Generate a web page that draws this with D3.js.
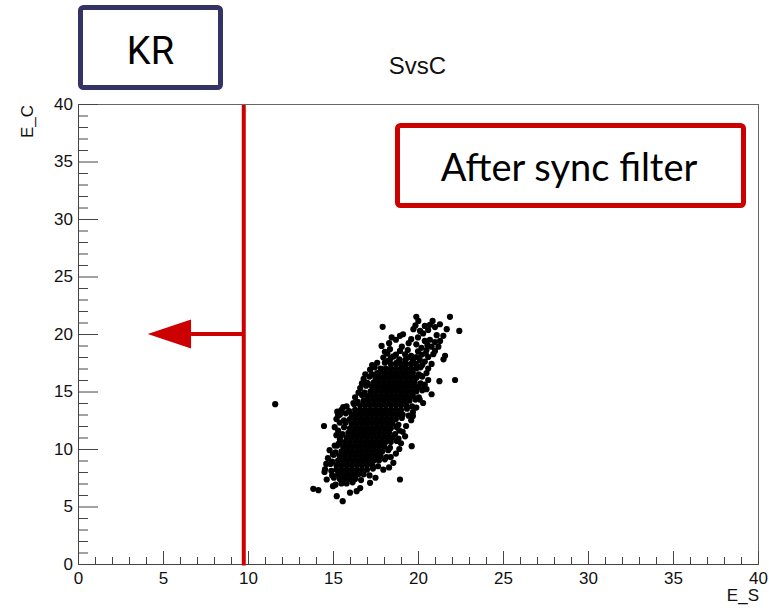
<!DOCTYPE html>
<html>
<head>
<meta charset="utf-8">
<script src="https://cdn.jsdelivr.net/npm/d3@7"></script>
<style>
  html, body { margin: 0; padding: 0; background: #fff; }
  svg { display: block; }
</style>
</head>
<body>
<svg id="chart" width="769" height="608"></svg>
<script>
/* axis ranges and ticks */
const xDomain = [0, 40]
const yDomain = [0, 40]
const majorTicks = [0, 5, 10, 15, 20, 25, 30, 35, 40]
const minorTicks = [1, 2, 3, 4, 6, 7, 8, 9, 11, 12, 13, 14, 16, 17, 18, 19, 21, 22, 23, 24,
  26, 27, 28, 29, 31, 32, 33, 34, 36, 37, 38, 39]

/* labels */
const title = "SvsC"
const xLabel = "E_S"
const yLabel = "E_C"
const tagLabel = "KR"
const noteLabel = "After sync filter"

/* cut line on E_S and the arrow that points to the kept side */
const cutES = 9.75
const arrowY = 20
const arrowBase = 6.65
const arrowTip = 4.1

/* dense core of the cloud: [E_C, [E_S ...]] read row by row */
const coreRows = [
  [17.4, [18.4, 18.7, 19.0, 19.3, 19.6, 19.9]],
  [17.0, [17.8, 18.1, 18.4, 18.7, 19.0, 19.3, 19.6, 19.9]],
  [16.6, [17.6, 17.9, 18.2, 18.5, 18.8, 19.1, 19.4, 19.7]],
  [16.2, [17.5, 17.8, 18.1, 18.4, 18.7, 19.0, 19.3, 19.6, 19.9]],
  [15.8, [17.4, 17.7, 18.0, 18.3, 18.6, 18.9, 19.2, 19.5, 19.8]],
  [15.4, [17.3, 17.6, 17.9, 18.2, 18.5, 18.8, 19.1, 19.4, 19.7, 20.0]],
  [15.0, [17.2, 17.5, 17.8, 18.1, 18.4, 18.7, 19.0, 19.3, 19.6, 19.9]],
  [14.6, [17.0, 17.3, 17.6, 17.9, 18.2, 18.5, 18.8, 19.1, 19.4, 19.7]],
  [14.2, [16.8, 17.1, 17.4, 17.7, 18.0, 18.3, 18.6, 18.9, 19.2, 19.5]],
  [13.8, [16.6, 16.9, 17.2, 17.5, 17.8, 18.1, 18.4, 18.7, 19.0, 19.3]],
  [13.4, [16.3, 16.6, 16.9, 17.2, 17.5, 17.8, 18.1, 18.4, 18.7, 19.0]],
  [13.0, [16.1, 16.4, 16.7, 17.0, 17.3, 17.6, 17.9, 18.2, 18.5, 18.8, 19.1]],
  [12.6, [16.0, 16.3, 16.6, 16.9, 17.2, 17.5, 17.8, 18.1, 18.4, 18.7]],
  [12.2, [16.1, 16.4, 16.7, 17.0, 17.3, 17.6, 17.9, 18.2, 18.5]],
  [11.8, [16.0, 16.3, 16.6, 16.9, 17.2, 17.5, 17.8, 18.1, 18.4]],
  [11.4, [15.9, 16.2, 16.5, 16.8, 17.1, 17.4, 17.7, 18.0, 18.3]],
  [11.0, [15.8, 16.1, 16.4, 16.7, 17.0, 17.3, 17.6, 17.9, 18.2, 18.5]],
  [10.6, [15.7, 16.0, 16.3, 16.6, 16.9, 17.2, 17.5, 17.8, 18.1, 18.4]],
  [10.2, [15.6, 15.9, 16.2, 16.5, 16.8, 17.1, 17.4, 17.7, 18.0]],
  [9.8, [15.5, 15.8, 16.1, 16.4, 16.7, 17.0, 17.3, 17.6, 17.9]],
  [9.4, [15.4, 15.7, 16.0, 16.3, 16.6, 16.9, 17.2, 17.5, 17.8]],
  [9.0, [15.3, 15.6, 15.9, 16.2, 16.5, 16.8, 17.1, 17.4, 17.7]],
  [8.6, [15.2, 15.5, 15.8, 16.1, 16.4, 16.7, 17.0, 17.3]],
  [8.2, [15.2, 15.5, 15.8, 16.1, 16.4, 16.7, 17.0]],
  [7.8, [15.3, 15.6, 15.9, 16.2, 16.5, 16.8]],
  [7.4, [15.4, 15.7, 16.0, 16.3]],
  [7.0, [15.5, 15.8]]
]

/* single dots along the left rim, bottom to top: [E_S, E_C] */
const leftRim = [
  [15.57, 5.46], [15.22, 5.9], [15.0, 6.77], [13.84, 6.54], [14.14, 6.42], [14.63, 7.35],
  [14.5, 8.0], [14.53, 8.22], [14.6, 8.7], [14.7, 9.2], [15.0, 9.53], [14.8, 9.9],
  [15.1, 10.3], [15.41, 10.84], [15.2, 11.2], [15.3, 11.6], [15.4, 12.3], [15.3, 12.9],
  [15.41, 13.0], [15.5, 13.4], [15.8, 13.7], [16.2, 14.0], [16.3, 14.5], [16.5, 14.9],
  [16.6, 15.3], [16.7, 15.7], [16.8, 16.1], [16.98, 15.77], [16.9, 16.5], [17.18, 16.9],
  [17.3, 17.3], [17.6, 17.5], [17.96, 17.95], [18.25, 17.66],
  [18.05, 17.5], [17.45, 17.1], [17.3, 16.5], [17.15, 16.3], [17.05, 15.7], [16.95, 15.5],
  [16.85, 14.9], [16.7, 14.7], [16.45, 14.1], [16.25, 13.9], [15.95, 13.3], [15.75, 13.1],
  [15.65, 12.5], [15.75, 12.3], [15.65, 11.9], [15.55, 11.3], [15.45, 11.1], [15.35, 10.5],
  [15.25, 10.3], [15.15, 9.7], [15.05, 9.5], [14.95, 8.9], [14.85, 8.7], [14.9, 8.1],
  [14.95, 7.7], [15.05, 7.5], [15.15, 6.9],
  [15.2, 12.6], [15.25, 13.25], [15.6, 13.65], [15.1, 11.9]
]

/* single dots along the right rim, bottom to top */
const rightRim = [
  [16.0, 6.2], [16.39, 6.33], [16.6, 6.6], [17.18, 7.06], [17.5, 7.5], [17.96, 8.2],
  [18.3, 8.4], [18.55, 8.8], [18.4, 9.3], [18.7, 9.6], [18.94, 7.35], [18.9, 10.0],
  [19.0, 10.5], [19.63, 10.25], [19.24, 11.1], [19.1, 11.5], [18.9, 11.6], [19.3, 12.0],
  [19.6, 12.5], [19.7, 12.87], [19.9, 13.6], [19.7, 13.2], [20.1, 14.3], [20.3, 14.0],
  [20.8, 14.76], [20.5, 15.2], [20.4, 15.6], [20.6, 16.0], [20.5, 16.6], [20.2, 16.35],
  [21.26, 15.9], [22.18, 16.0], [20.6, 17.0], [20.8, 17.4], [20.4, 17.6],
  [20.25, 17.3], [20.15, 17.1], [20.05, 16.5], [20.25, 16.3], [20.15, 15.7], [20.35, 15.3],
  [20.25, 15.1], [20.05, 14.5], [19.85, 14.3], [19.65, 13.7], [19.35, 13.5], [19.45, 12.9],
  [19.05, 12.7], [18.85, 12.1], [18.75, 11.9], [18.65, 11.3], [18.85, 10.9], [18.75, 10.7],
  [18.35, 10.1], [18.25, 9.9], [18.15, 9.3], [18.05, 9.1], [17.65, 8.5], [17.35, 8.3],
  [17.15, 7.7], [16.65, 7.3], [16.15, 7.1]
]

/* looser clumps at the top of the cloud */
const upperDots = [
  [17.86, 18.96], [18.35, 18.68], [18.94, 18.53], [19.24, 18.24], [18.75, 17.52], [19.14, 17.22],
  [19.6, 18.1], [19.9, 18.0], [20.2, 18.2], [20.6, 18.0], [21.0, 18.53], [21.59, 18.1],
  [21.5, 17.8], [20.2, 18.8], [19.6, 19.55], [20.0, 19.7], [20.4, 19.4], [20.7, 19.5],
  [21.0, 19.3], [21.3, 19.4], [21.49, 19.84], [18.45, 19.7], [18.94, 19.84], [19.12, 19.98],
  [18.7, 19.5], [17.92, 20.62], [19.73, 20.42], [20.12, 20.27], [20.02, 21.14], [20.4, 20.7],
  [20.7, 20.8], [21.0, 20.6], [21.29, 20.85], [20.86, 21.14], [21.69, 20.42], [21.88, 21.49],
  [22.43, 20.27], [19.9, 21.5], [18.7, 18.2], [18.2, 18.3], [19.4, 18.6], [20.0, 18.5],
  [20.5, 18.6], [18.3, 19.2], [19.9, 19.1], [20.8, 18.9],
  [18.4, 17.9], [18.9, 17.8], [19.4, 17.95], [19.7, 17.7], [20.1, 17.75], [20.45, 18.3],
  [19.05, 18.9], [19.45, 19.2], [20.55, 19.05], [20.9, 18.25], [19.25, 17.75], [18.55, 18.05],
  [20.3, 20.05], [20.6, 20.35], [21.1, 19.9], [19.85, 20.75], [18.05, 18.45], [21.2, 18.9]
]

/* isolated events left of the cloud */
const strayDots = [[11.6, 13.9], [14.47, 12.0]]

/* colours and fonts */
const axisColor = "#444"
const frameColor = "#666"
const cutColor = "#cc0000"
const tagColor = "#333366"
const rootFont = "'Liberation Sans', Arial, sans-serif"

/* plot area */
const plotLeft = 78
const plotRight = 758
const plotTop = 104
const plotBottom = 564

const svg = d3.select("#chart")

const x = d3.scaleLinear(xDomain, [plotLeft, plotRight])
const y = d3.scaleLinear(yDomain, [plotBottom, plotTop])

/* frame */
svg.append("rect")
  .attr("x", plotLeft + 0.5)
  .attr("y", plotTop + 0.5)
  .attr("width", plotRight - plotLeft)
  .attr("height", plotBottom - plotTop)
  .attr("fill", "none")
  .attr("stroke", frameColor)
  .attr("stroke-width", 1)

/* x axis: major + minor ticks pointing inward */
svg.append("g")
  .attr("transform", `translate(0,${plotBottom})`)
  .call(d3.axisBottom(x).tickValues(minorTicks).tickSize(-7).tickSizeOuter(0).tickFormat(""))
  .call(g => g.select(".domain").remove())
  .call(g => g.selectAll(".tick line").attr("stroke", axisColor))

svg.append("g")
  .attr("transform", `translate(0,${plotBottom})`)
  .call(d3.axisBottom(x).tickValues(majorTicks).tickSize(-13).tickSizeOuter(0).tickPadding(8).tickFormat(d3.format("d")))
  .attr("font-family", rootFont)
  .attr("font-size", 17)
  .call(g => g.select(".domain").attr("stroke", axisColor))
  .call(g => g.selectAll(".tick line").attr("stroke", axisColor))
  .call(g => g.selectAll(".tick text").attr("fill", "#111"))

/* y axis */
svg.append("g")
  .attr("transform", `translate(${plotLeft},0)`)
  .call(d3.axisLeft(y).tickValues(minorTicks).tickSize(-10).tickSizeOuter(0).tickFormat(""))
  .call(g => g.select(".domain").remove())
  .call(g => g.selectAll(".tick line").attr("stroke", axisColor))

svg.append("g")
  .attr("transform", `translate(${plotLeft},0)`)
  .call(d3.axisLeft(y).tickValues(majorTicks).tickSize(-20).tickSizeOuter(0).tickPadding(5).tickFormat(d3.format("d")))
  .attr("font-family", rootFont)
  .attr("font-size", 17)
  .call(g => g.select(".domain").attr("stroke", axisColor))
  .call(g => g.selectAll(".tick line").attr("stroke", axisColor))
  .call(g => g.selectAll(".tick text").attr("fill", "#111"))

/* axis titles and histogram title */
svg.append("text")
  .attr("x", plotRight + 1)
  .attr("y", 601)
  .attr("text-anchor", "end")
  .style("font", `17px ${rootFont}`)
  .attr("fill", "#111")
  .text(xLabel)

svg.append("text")
  .attr("transform", `translate(33,${plotTop + 1}) rotate(-90)`)
  .attr("text-anchor", "end")
  .style("font", `17px ${rootFont}`)
  .attr("fill", "#111")
  .text(yLabel)

svg.append("text")
  .attr("x", 417.5)
  .attr("y", 74)
  .attr("text-anchor", "middle")
  .style("font", `24px ${rootFont}`)
  .attr("fill", "#111")
  .text(title)

/* scatter points */
const corePoints = coreRows.flatMap(([ec, row]) => row.map(es => [es, ec]))
const allPoints = [...corePoints, ...leftRim, ...rightRim, ...upperDots, ...strayDots]

svg.append("g")
  .selectAll("circle")
  .data(allPoints)
  .join("circle")
  .attr("cx", d => x(d[0]))
  .attr("cy", d => y(d[1]))
  .attr("r", 3.1)
  .attr("fill", "#000")

/* cut line and arrow */
svg.append("line")
  .attr("x1", x(cutES)).attr("x2", x(cutES))
  .attr("y1", y(yDomain[1]) + 1).attr("y2", y(yDomain[0]) + 1.5)
  .attr("stroke", cutColor)
  .attr("stroke-width", 4)

svg.append("line")
  .attr("x1", x(cutES)).attr("x2", x(arrowBase))
  .attr("y1", y(arrowY)).attr("y2", y(arrowY))
  .attr("stroke", cutColor)
  .attr("stroke-width", 4)

const headHalf = 14.5
svg.append("path")
  .attr("d", `M${x(arrowTip)},${y(arrowY)} L${x(arrowBase)},${y(arrowY) - headHalf} L${x(arrowBase)},${y(arrowY) + headHalf} Z`)
  .attr("fill", cutColor)

/* annotation boxes */
svg.append("rect")
  .attr("x", 80.5).attr("y", 7.5)
  .attr("width", 140).attr("height", 80)
  .attr("rx", 3)
  .attr("fill", "#fff")
  .attr("stroke", tagColor)
  .attr("stroke-width", 5)

svg.append("text")
  .attr("x", 150.5)
  .attr("y", 64)
  .attr("text-anchor", "middle")
  .style("font", "38px Roboto, sans-serif")
  .attr("fill", "#000")
  .text(tagLabel)

svg.append("rect")
  .attr("x", 397.5).attr("y", 125.5)
  .attr("width", 346).attr("height", 80)
  .attr("rx", 3)
  .attr("fill", "#fff")
  .attr("stroke", cutColor)
  .attr("stroke-width", 5)

svg.append("text")
  .attr("x", 569)
  .attr("y", 181)
  .attr("text-anchor", "middle")
  .style("font", "38px Lato, sans-serif")
  .attr("fill", "#000")
  .text(noteLabel)
</script>
</body>
</html>
